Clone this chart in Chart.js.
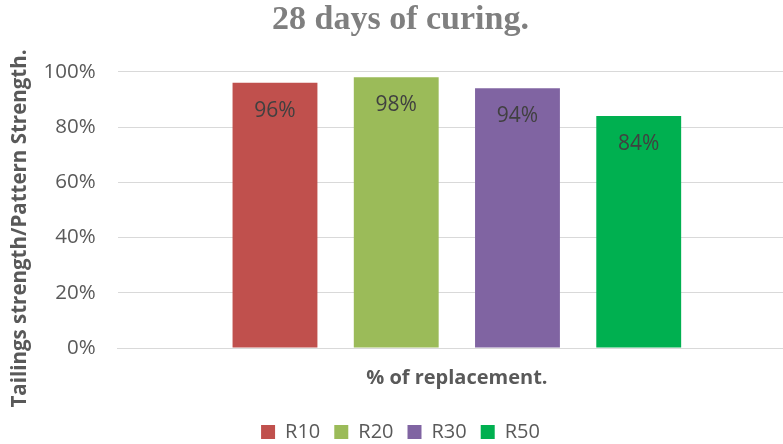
<!DOCTYPE html>
<html>
<head>
<meta charset="utf-8">
<script src="https://cdn.jsdelivr.net/npm/chart.js@4/dist/chart.umd.min.js"></script>
<style>
html,body{margin:0;padding:0;background:#fff;}
#wrap{width:783px;height:444px;position:relative;}
</style>
</head>
<body>
<div id="wrap"><canvas id="c" width="783" height="444"></canvas></div>
<script>
const categories = [''];
const seriesNames = ['R10', 'R20', 'R30', 'R50'];
const seriesValues = [[96], [98], [94], [84]];
const seriesColors = ['#C0504D', '#9BBB59', '#8064A2', '#00B050'];
const yTicks = [0, 20, 40, 60, 80, 100];

const labelPlugin = {
  id: 'barLabels',
  afterDatasetsDraw(chart) {
    const ctx = chart.ctx;
    ctx.save();
    ctx.font = '21px "Open Sans"';
    ctx.fillStyle = '#404040';
    ctx.textAlign = 'center';
    ctx.textBaseline = 'middle';
    chart.data.datasets.forEach((ds, i) => {
      const meta = chart.getDatasetMeta(i);
      meta.data.forEach((bar, j) => {
        ctx.fillText(ds.data[j] + '%', bar.x, bar.y + 28);
      });
    });
    ctx.restore();
  }
};

// The original plot area runs past the right edge of the picture.
const plotOverflow = {
  id: 'plotOverflow',
  afterLayout(chart) {
    const ext = 13;
    const x = chart.scales.x;
    x.right = chart.width + ext;
    x.width = x.right - x.left;
    x.configure();
    chart.chartArea.right = x.right;
    chart.chartArea.width = x.width;
  }
};

new Chart(document.getElementById('c'), {
  type: 'bar',
  data: {
    labels: categories,
    datasets: seriesNames.map((n, i) => ({
      label: n,
      data: seriesValues[i],
      backgroundColor: seriesColors[i],
      borderWidth: 0,
      barPercentage: 0.70,
      categoryPercentage: 0.715
    }))
  },
  options: {
    responsive: false,
    animation: false,
    devicePixelRatio: 1,
    layout: { padding: { left: 0, right: -18, top: 0, bottom: -8 } },
    plugins: {
      title: {
        display: true,
        text: '28 days of curing.',
        color: '#7F7F7F',
        font: { family: '"Liberation Serif", serif', size: 34, weight: 'bold' },
        padding: { top: 0, bottom: 31 }
      },
      legend: {
        position: 'bottom',
        labels: {
          color: '#595959',
          font: { family: '"Open Sans"', size: 20 },
          boxWidth: 14,
          boxHeight: 14,
          padding: 14
        }
      },
      tooltip: { enabled: false }
    },
    scales: {
      x: {
        grid: { display: false, drawTicks: false },
        border: { display: true, color: '#D9D9D9', width: 1 },
        ticks: { display: false },
        title: {
          display: true,
          text: '% of replacement.',
          color: '#595959',
          font: { family: '"Open Sans"', size: 20, weight: 'bold' },
          padding: { top: 18, bottom: 18 }
        }
      },
      y: {
        min: 0,
        max: 100,
        afterBuildTicks(scale) { scale.ticks = yTicks.map(v => ({ value: v })); },
        grid: { color: '#D9D9D9', lineWidth: 1, drawTicks: false },
        border: { display: false },
        ticks: {
          color: '#595959',
          font: { family: '"Open Sans"', size: 20.5 },
          padding: 22,
          callback: v => v + '%'
        },
        title: {
          display: true,
          text: 'Tailings strength/Pattern Strength.\u00A0\u00A0\u00A0\u00A0\u00A0\u00A0\u00A0',
          color: '#595959',
          font: { family: '"Open Sans"', size: 20.5, weight: 'bold' },
          padding: { top: 8, bottom: -11 }
        }
      }
    }
  },
  plugins: [labelPlugin, plotOverflow]
});
</script>
</body>
</html>
